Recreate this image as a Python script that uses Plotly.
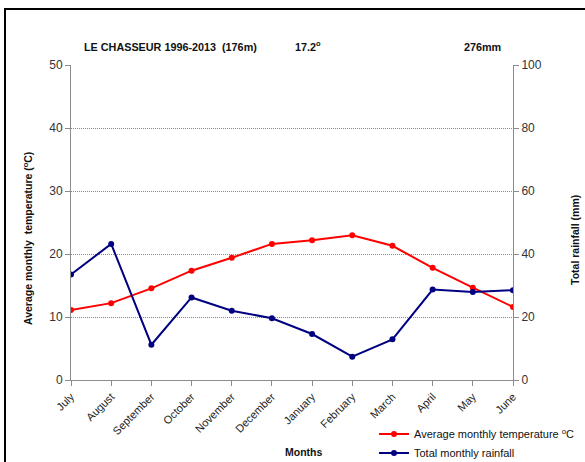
import plotly.graph_objects as go

months = ["July", "August", "September", "October", "November", "December",
          "January", "February", "March", "April", "May", "June"]
temperature = [11.1, 12.2, 14.55, 17.35, 19.4, 21.6, 22.2, 22.96, 21.3, 17.8, 14.65, 11.6]
rainfall = [33.5, 43.2, 11.2, 26.2, 22.0, 19.6, 14.6, 7.4, 12.9, 28.7, 27.9, 28.5]

left_ticks = [0, 10, 20, 30, 40, 50]
right_ticks = [0, 20, 40, 60, 80, 100]

FONT = "Liberation Sans, Arial, sans-serif"
AXIS_GREY = "#8c8c8c"

fig = go.Figure()
fig.add_trace(go.Scatter(
    x=months, y=temperature, name="Average monthly temperature <sup>o</sup>C",
    mode="lines+markers", line=dict(color="#ff0000", width=2),
    marker=dict(color="#ff0000", size=6), yaxis="y"))
fig.add_trace(go.Scatter(
    x=months, y=rainfall, name="Total monthly rainfall",
    mode="lines+markers", line=dict(color="#000080", width=2),
    marker=dict(color="#000080", size=6), yaxis="y2"))

fig.update_layout(
    width=585, height=462,
    margin=dict(l=71, r=72, t=65, b=82, autoexpand=False),
    paper_bgcolor="white", plot_bgcolor="white",
    font=dict(family=FONT, size=11, color="#222"),
    showlegend=True,
    legend=dict(x=0.6855, y=-0.125, xanchor="left", yanchor="top",
                font=dict(size=11, color="#111"), bgcolor="rgba(0,0,0,0)",
                tracegroupgap=0, itemwidth=30),
    xaxis=dict(type="category", range=[0, 11], tickangle=-45,
               showline=True, linecolor=AXIS_GREY, linewidth=1,
               ticks="outside", ticklen=5, tickcolor=AXIS_GREY,
               showgrid=False, tickfont=dict(size=11, color="#222")),
    yaxis=dict(range=[0, 50], tickvals=left_ticks,
               showline=True, linecolor=AXIS_GREY, linewidth=1,
               ticks="outside", ticklen=5, tickcolor=AXIS_GREY,
               showgrid=True, gridcolor="#8a8a8a", griddash="1px,1px", gridwidth=1,
               zeroline=False, tickfont=dict(size=12, color="#333")),
    yaxis2=dict(range=[0, 100], tickvals=right_ticks, overlaying="y", side="right",
                showline=True, linecolor=AXIS_GREY, linewidth=1,
                ticks="outside", ticklen=5, tickcolor=AXIS_GREY,
                showgrid=False, zeroline=False, tickfont=dict(size=12, color="#333")),
)

# outer frame
fig.add_shape(type="rect", xref="paper", yref="paper",
              x0=(5 - 71) / 442, x1=(620 - 71) / 442,
              y0=(380 - 500) / 315, y1=(380 - 9) / 315,
              line=dict(color="black", width=2), fillcolor="rgba(0,0,0,0)", layer="below")

def px_x(p):
    return (p - 71) / 442

def px_y(p):
    return (380 - p) / 315

bold = dict(family=FONT, size=10.5, color="#111")
head = dict(family=FONT, size=10.8, color="#111")
fig.add_annotation(text="<b>LE CHASSEUR 1996-2013  (176m)</b>", x=px_x(82), y=px_y(47),
                   xref="paper", yref="paper", xanchor="left", yanchor="middle",
                   showarrow=False, font=head)
fig.add_annotation(text="<b>17.2<sup>o</sup></b>", x=px_x(293), y=px_y(46),
                   xref="paper", yref="paper", xanchor="left", yanchor="middle",
                   showarrow=False, font=head)
fig.add_annotation(text="<b>276mm</b>", x=px_x(462), y=px_y(47),
                   xref="paper", yref="paper", xanchor="left", yanchor="middle",
                   showarrow=False, font=head)
fig.add_annotation(text="<b>Average monthly  temperature (<sup>o</sup>C)</b>", x=px_x(27), y=px_y(239),
                   xref="paper", yref="paper", xanchor="center", yanchor="middle",
                   textangle=-90, showarrow=False, font=bold)
fig.add_annotation(text="<b>Total rainfall (mm)</b>", x=px_x(575), y=px_y(240),
                   xref="paper", yref="paper", xanchor="center", yanchor="middle",
                   textangle=-90, showarrow=False, font=bold)
fig.add_annotation(text="<b>Months</b>", x=px_x(303), y=px_y(452),
                   xref="paper", yref="paper", xanchor="center", yanchor="middle",
                   showarrow=False, font=bold)

fig.write_html("out.html")
